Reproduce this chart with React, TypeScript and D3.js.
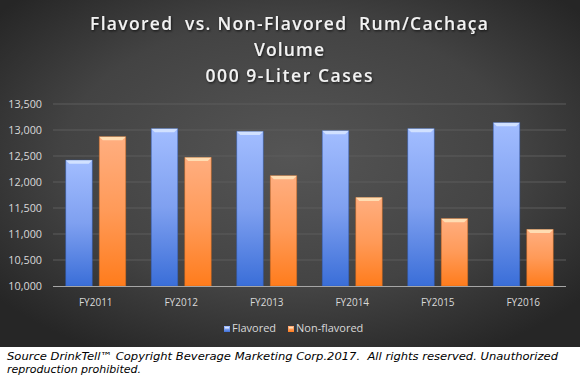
import React from "react";
import * as d3 from "d3";

const categories = ["FY2011", "FY2012", "FY2013", "FY2014", "FY2015", "FY2016"];
const flavored = [12420, 13025, 12970, 12985, 13025, 13140];
const nonFlavored = [12870, 12470, 12120, 11700, 11295, 11085];
const yTicks = [10000, 10500, 11000, 11500, 12000, 12500, 13000, 13500];
const seriesNames = ["Flavored", "Non-flavored"];
const titleLines = ["Flavored  vs. Non-Flavored  Rum/Cachaça", "Volume", "000 9-Liter Cases"];
const sourceLines = [
  "Source DrinkTell™ Copyright Beverage Marketing Corp.2017.  All rights reserved. Unauthorized",
  "reproduction prohibited.",
];

const W = 580;
const H = 380;
const plot = { left: 53, right: 566, top: 104, bottom: 286 };

export default function App() {
  const x = d3.scaleBand<string>().domain(categories).range([plot.left, plot.right]).paddingInner(0).paddingOuter(0);
  const y = d3.scaleLinear().domain([10000, 13500]).range([plot.bottom, plot.top]);
  const barW = 26.5;
  const gap = 7;
  const fmt = d3.format(",");
  const series = [
    { name: seriesNames[0], values: flavored, grad: "gBlue", cap: "#d6e4ff", edge: "#2f5cb8" },
    { name: seriesNames[1], values: nonFlavored, grad: "gOrange", cap: "#ffe2b8", edge: "#c8641a" },
  ];
  const titleLens = [398, 70, 167];
  const titleY = [30, 56, 82];

  const bar = (cx: number, v: number, s: typeof series[0], key: string) => {
    const top = y(v);
    const h = plot.bottom - top;
    const bev = 3.5;
    return (
      <g key={key}>
        <rect x={cx} y={top} width={barW} height={h} fill={`url(#${s.grad})`} stroke={s.edge} strokeOpacity={0.6} strokeWidth={0.8} />
        <polygon
          points={`${cx},${top} ${cx + barW},${top} ${cx + barW - bev},${top + bev} ${cx + bev},${top + bev}`}
          fill={s.cap}
          opacity={0.9}
        />
      </g>
    );
  };

  return (
    <svg width={W} height={H} style={{ position: "absolute", left: 0, top: 0 }}>
      <defs>
        <radialGradient id="bg" cx="0.5" cy="0.45" r="0.65">
          <stop offset="0" stopColor="#555555" />
          <stop offset="0.6" stopColor="#434343" />
          <stop offset="1" stopColor="#262626" />
        </radialGradient>
        <linearGradient id="gBlue" x1="0" y1="0" x2="0" y2="1">
          <stop offset="0" stopColor="#a2bdff" />
          <stop offset="0.5" stopColor="#7fa0f0" />
          <stop offset="1" stopColor="#3a6ed8" />
        </linearGradient>
        <linearGradient id="gOrange" x1="0" y1="0" x2="0" y2="1">
          <stop offset="0" stopColor="#ffae80" />
          <stop offset="0.5" stopColor="#ff9a58" />
          <stop offset="1" stopColor="#ff7c1c" />
        </linearGradient>
        <filter id="shadow" x="-5%" y="-20%" width="110%" height="150%">
          <feDropShadow dx="0.8" dy="1.2" stdDeviation="0.8" floodColor="#000" floodOpacity="0.7" />
        </filter>
      </defs>
      <rect x={0} y={0} width={W} height={H} fill="#ffffff" />
      <rect x={0} y={0} width={W} height={347} fill="url(#bg)" />

      {titleLines.map((t, i) => (
        <text
          key={t}
          x={289}
          y={titleY[i]}
          textAnchor="middle"
          fontFamily="'Open Sans', sans-serif"
          fontWeight={600}
          fontSize={17.5}
          fill="#f2f2f2"
          filter="url(#shadow)"
          textLength={titleLens[i]}
          lengthAdjust="spacing"
          style={{ whiteSpace: "pre" }}
        >
          {t}
        </text>
      ))}

      {yTicks.map((t) => (
        <g key={t}>
          {t !== 10000 && (
            <line x1={plot.left} x2={plot.right} y1={y(t)} y2={y(t)} stroke="#5c5c5c" strokeWidth={1} />
          )}
          <text
            x={42}
            y={y(t)}
            dy="0.35em"
            textAnchor="end"
            fontFamily="'Open Sans', sans-serif"
            fontSize={10.8}
            fill="#d9d9d9"
          >
            {fmt(t)}
          </text>
        </g>
      ))}

      {categories.map((c, i) => {
        const cx = x(c)! + x.bandwidth() / 2;
        return (
          <g key={c}>
            {bar(cx - gap / 2 - barW, flavored[i], series[0], c + "f")}
            {bar(cx + gap / 2, nonFlavored[i], series[1], c + "n")}
            <text
              x={cx}
              y={306}
              textAnchor="middle"
              fontFamily="'Open Sans', sans-serif"
              fontSize={10}
              fill="#d9d9d9"
            >
              {c}
            </text>
          </g>
        );
      })}
      <line x1={plot.left} x2={plot.right} y1={plot.bottom + 0.5} y2={plot.bottom + 0.5} stroke="#a6a6a6" strokeWidth={1} />

      {series.map((s, i) => {
        const lx = i === 0 ? 224 : 288;
        return (
          <g key={s.name}>
            <rect x={lx} y={326} width={6} height={6} fill={`url(#${s.grad})`} />
            <rect x={lx + 1} y={327} width={4} height={1.5} fill={s.cap} />
            <text
              x={lx + 8}
              y={332}
              fontFamily="'Open Sans', sans-serif"
              fontSize={11}
              fill="#d9d9d9"
            >
              {s.name}
            </text>
          </g>
        );
      })}

      {sourceLines.map((t, i) => (
        <text
          key={i}
          x={7}
          y={360 + i * 12.7}
          fontFamily="'DejaVu Sans', Verdana, sans-serif"
          fontStyle="italic"
          fontSize={11}
          fill="#000"
          textLength={i === 0 ? 551 : undefined}
          lengthAdjust="spacingAndGlyphs"
          style={{ whiteSpace: "pre" }}
        >
          {t}
        </text>
      ))}
    </svg>
  );
}
